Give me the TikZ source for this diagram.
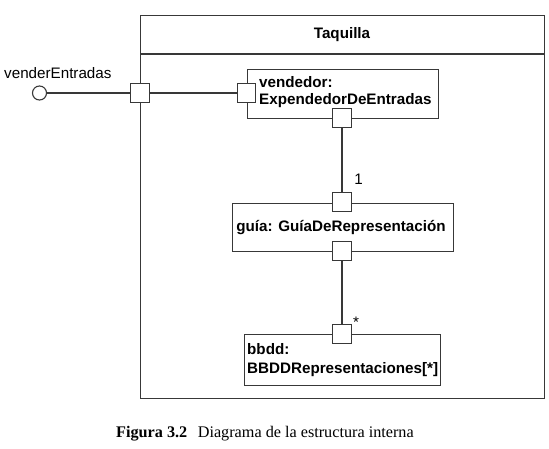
\documentclass[tikz,border=0pt]{standalone}
\usepackage{fontspec}
\setmainfont{Liberation Sans}
\newfontfamily\capfont{Liberation Serif}
\begin{document}
\begin{tikzpicture}[x=1pt,y=-1pt,
  ln/.style={line width=1.1pt, draw=black!78},
  part/.style={ln, rectangle, inner sep=0pt, anchor=north west},
  port/.style={ln, fill=white, rectangle, minimum size=18.5pt, inner sep=0pt},
  txt/.style={font=\fontsize{15.2}{17.5}\selectfont\bfseries, inner sep=0pt},
  rtxt/.style={font=\fontsize{15.2}{17.5}\selectfont, inner sep=0pt},
]
\useasboundingbox (0,0) rectangle (549,448);
% parts
\node[part, minimum width=404pt, minimum height=383pt] (taq) at (140,15) {};
\coordinate (hl) at (140,54);
\coordinate (hr) at (544,54);
\draw[ln] (hl) -- (hr);
\node[txt] (taqt) at (342,34.5) {Taquilla};
\node[part, minimum width=191.5pt, minimum height=49pt] (vend) at (246.5,69) {};
\node[part, minimum width=221pt, minimum height=48pt] (guia) at (232,203) {};
\node[part, minimum width=196pt, minimum height=51pt] (bbdd) at (244,334) {};
% interface
\node[ln, circle, minimum size=14pt, inner sep=0pt] (iface) at (39.5,93) {};
% ports
\node[port] (p0) at (140,93) {};
\node[port] (pv) at (246.5,93) {};
\node[port] (pvb) at (342,118) {};
\node[port] (pgt) at (342,202) {};
\node[port] (pgb) at (342,251) {};
\node[port] (pbt) at (342,334) {};
% connectors
\draw[ln] (iface) -- (p0);
\draw[ln] (p0) -- (pv);
\draw[ln] (pvb) -- (pgt);
\draw[ln] (pgb) -- (pbt);
% texts
\node[rtxt, anchor=base west] (vlab) at (4,78) {venderEntradas};
\node[txt, anchor=base west] (vt1) at (259,87) {vendedor:};
\node[txt, anchor=base west] (vt2) at (259,104) {ExpendedorDeEntradas};
\node[txt, anchor=base] (gt) at (341,231) {guía: GuíaDeRepresentación};
\node[txt, anchor=base west] (bt1) at (247,354) {bbdd:};
\node[txt, anchor=base west] (bt2) at (247,373) {BBDDRepresentaciones[*]};
\node[rtxt, anchor=base] (m1) at (358.5,184) {1};
\node[rtxt, anchor=base] (m2) at (356,327) {*};
\node[anchor=base west, inner sep=0pt, font=\capfont\fontsize{16.2}{18}\selectfont] (cap) at (116,437) {\textbf{Figura 3.2}\hspace{0.65em}Diagrama de la estructura interna};
\end{tikzpicture}
\end{document}
